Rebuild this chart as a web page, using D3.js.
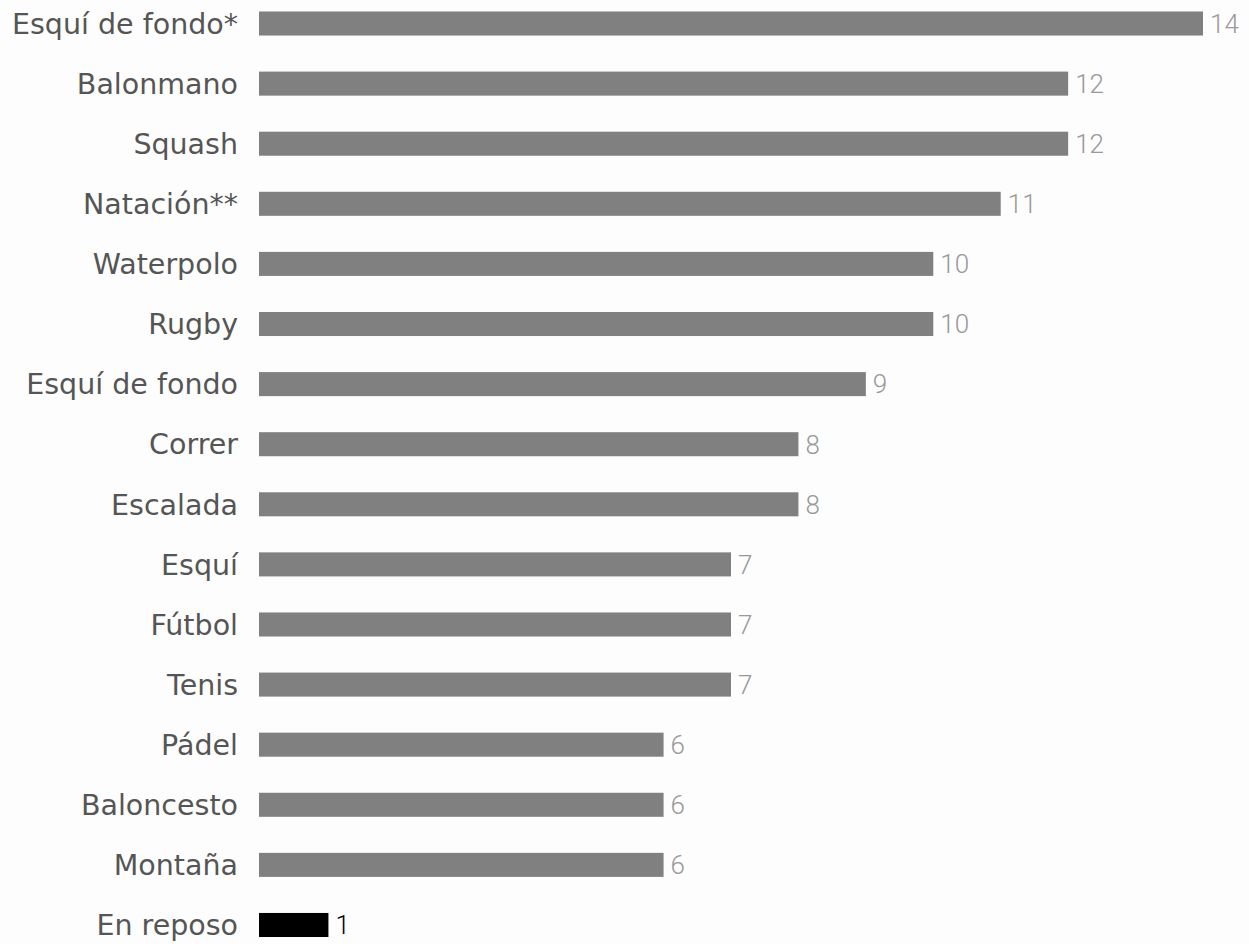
<!DOCTYPE html>
<html>
<head>
<meta charset="utf-8">
<script src="https://cdn.jsdelivr.net/npm/d3@7"></script>
<style>
  body { margin: 0; background: #fdfdfd; }
  svg { display: block; }
</style>
</head>
<body>
<div id="main"></div>
<script>
const categories = ["Esquí de fondo*", "Balonmano", "Squash", "Natación**", "Waterpolo", "Rugby",
  "Esquí de fondo", "Correr", "Escalada", "Esquí", "Fútbol", "Tenis", "Pádel", "Baloncesto",
  "Montaña", "En reposo"];
const values = [14, 12, 12, 11, 10, 10, 9, 8, 8, 7, 7, 7, 6, 6, 6, 1];
const highlight = ["En reposo"];

const width = 1249, height = 944;

const data = categories.map((c, i) => ({ name: c, value: values[i] }));

const svg = d3.select("#main").append("svg")
  .attr("width", width)
  .attr("height", height);

const x = d3.scaleLinear().domain([0, 14]).range([259, 1203]);
const y = d3.scaleBand().domain(categories).range([11.5, 937]).paddingInner(0.6).paddingOuter(0);

const rows = svg.selectAll("g.row")
  .data(data)
  .join("g")
  .attr("class", "row");

rows.append("rect")
  .attr("x", x(0))
  .attr("y", d => y(d.name))
  .attr("width", d => x(d.value) - x(0) + (d.value === 1 ? 2 : 0))
  .attr("height", y.bandwidth())
  .attr("fill", d => highlight.includes(d.name) ? "#000" : "#808080");

rows.append("text")
  .attr("x", 238)
  .attr("y", d => y(d.name) + y.bandwidth() / 2)
  .attr("dy", "0.36em")
  .attr("text-anchor", "end")
  .attr("font-family", "'DejaVu Sans', sans-serif")
  .attr("font-size", 28.5)
  .attr("fill", "#555")
  .text(d => d.name);

rows.append("text")
  .attr("x", d => x(d.value) + (d.value === 1 ? 2 : 0) + 7)
  .attr("y", d => y(d.name) + y.bandwidth() / 2)
  .attr("dy", "0.36em")
  .attr("font-family", "Roboto, sans-serif")
  .attr("font-weight", 300)
  .attr("font-size", 26)
  .attr("fill", d => highlight.includes(d.name) ? "#000" : "#999")
  .text(d => d.value);
</script>
</body>
</html>
